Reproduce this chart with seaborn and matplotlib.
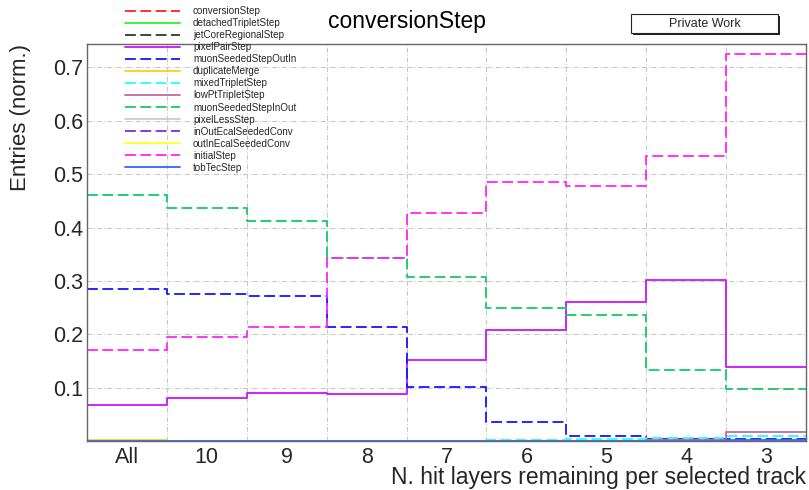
import matplotlib
matplotlib.use("Agg")
import matplotlib.pyplot as plt
from matplotlib.patches import Rectangle
import seaborn as sns
import numpy as np
import pandas as pd

# ---- data ----
categories = ["All", "10", "9", "8", "7", "6", "5", "4", "3"]

conversionStep        = [0, 0, 0, 0, 0, 0, 0, 0, 0]
detachedTripletStep   = [0, 0, 0, 0, 0, 0, 0, 0, 0]
jetCoreRegionalStep   = [0, 0, 0, 0, 0, 0, 0, 0, 0]
pixelPairStep         = [0.068, 0.081, 0.090, 0.089, 0.151, 0.208, 0.261, 0.301, 0.138]
muonSeededStepOutIn   = [0.285, 0.275, 0.272, 0.213, 0.101, 0.036, 0.009, 0.004, 0.003]
duplicateMerge        = [0.002, 0, 0, 0, 0, 0, 0, 0, 0]
mixedTripletStep      = [0, 0, 0, 0, 0, 0.002, 0.004, 0.006, 0.009]
lowPtTripletStep      = [0, 0, 0, 0, 0, 0, 0, 0.002, 0.016]
muonSeededStepInOut   = [0.461, 0.436, 0.413, 0.343, 0.308, 0.249, 0.236, 0.133, 0.097]
pixelLessStep         = [0, 0, 0, 0, 0, 0, 0, 0, 0]
inOutEcalSeededConv   = [0, 0, 0, 0, 0, 0, 0, 0, 0]
outInEcalSeededConv   = [0, 0, 0, 0, 0, 0, 0, 0, 0]
initialStep           = [0.170, 0.194, 0.213, 0.343, 0.428, 0.486, 0.478, 0.535, 0.726]
tobTecStep            = [0, 0, 0, 0, 0, 0, 0, 0, 0.001]

series_names = ["conversionStep", "detachedTripletStep", "jetCoreRegionalStep",
                "pixelPairStep", "muonSeededStepOutIn", "duplicateMerge",
                "mixedTripletStep", "lowPtTripletStep", "muonSeededStepInOut",
                "pixelLessStep", "inOutEcalSeededConv", "outInEcalSeededConv",
                "initialStep", "tobTecStep"]
series_values = [conversionStep, detachedTripletStep, jetCoreRegionalStep,
                 pixelPairStep, muonSeededStepOutIn, duplicateMerge,
                 mixedTripletStep, lowPtTripletStep, muonSeededStepInOut,
                 pixelLessStep, inOutEcalSeededConv, outInEcalSeededConv,
                 initialStep, tobTecStep]
colors = ["#ff2020", "#33ee33", "#333333", "#cc11ff", "#1515ff", "#ffcc22",
          "#22ffff", "#cc6699", "#11cc66", "#cccccc", "#7733cc", "#ffff22",
          "#ff22ff", "#3366ff"]
dashed = [True, False, True, False, True, False, True, False, True, False,
          True, False, True, False]

# ---- style ----
sns.set_theme(style="white")
plt.rcParams["font.family"] = ["Liberation Sans", "DejaVu Sans"]

fig = plt.figure(figsize=(8.09, 4.90), dpi=100)
W, H = 809, 490
ax = fig.add_axes([87 / W, 1 - 441 / H, (806 - 87) / W, (441 - 44) / H])

nb = len(categories)
edges = np.arange(nb + 1)
centers = np.arange(nb) + 0.5

dash_style = (0, (6, 2.5))
handles = []
for name, vals, col, d in zip(series_names, series_values, colors, dashed):
    df = pd.DataFrame({"pos": centers, "w": vals})
    sns.histplot(data=df, x="pos", weights="w", bins=nb, binrange=(0, nb),
                 element="step", fill=False, color=col, linewidth=1.3,
                 linestyle=dash_style if d else "-", ax=ax)
    ln = ax.lines[-1]
    ln.set_label(name)
    handles.append(ln)

ax.set_xlim(0, nb)
ax.set_ylim(0, 0.744)

# grid
grid_kw = dict(color="#c4c4c4", linewidth=0.7, linestyle=(0, (5, 2, 1, 2)))
ax.set_xticks(edges)
ax.set_xticklabels([""] * len(edges))
ax.set_xticks(centers, minor=True)
ax.set_xticklabels(categories, minor=True, fontsize=15.5)
ax.tick_params(axis="x", which="major", direction="in", length=9, width=1,
               color="#666666")
ax.tick_params(axis="x", which="minor", length=0, pad=4)
ax.set_yticks([0.1, 0.2, 0.3, 0.4, 0.5, 0.6, 0.7])
ax.set_yticklabels(["0.1", "0.2", "0.3", "0.4", "0.5", "0.6", "0.7"], fontsize=15.5)
ax.set_yticks(np.arange(0.02, 0.74, 0.02), minor=True)
ax.tick_params(axis="y", which="major", direction="in", length=8, width=1,
               color="#666666", pad=3)
ax.tick_params(axis="y", which="minor", direction="in", length=5, width=1,
               color="#888888")
for e in edges[1:-1]:
    ax.axvline(e, zorder=0, **grid_kw)
for yv in [0.1, 0.2, 0.3, 0.4, 0.5, 0.6, 0.7]:
    ax.axhline(yv, zorder=0, **grid_kw)

for sp in ax.spines.values():
    sp.set_color("#666666")
    sp.set_linewidth(1.0)

ax.set_ylabel("Entries (norm.)", fontsize=16, loc="top")
ax.yaxis.set_label_coords(-0.0775, 1.0)
ax.set_xlabel("N. hit layers remaining per selected track", fontsize=16.5,
              loc="right")
ax.xaxis.set_label_coords(1.0, -0.062)

# legend
leg = fig.legend(handles=handles, labels=series_names, loc="upper left",
                 bbox_to_anchor=(125 / W, 1 - 6 / H), frameon=False,
                 fontsize=7.1, handlelength=5.6, handletextpad=1.3,
                 labelspacing=0.21, borderpad=0, borderaxespad=0)

# title
fig.text(407 / W, 1 - 28 / H, "conversionStep", ha="center", va="baseline",
         fontsize=16.5, color="black")

# Private Work box
fig.patches.append(Rectangle((633 / W, 1 - 35 / H), 147 / W, 19 / H,
                             transform=fig.transFigure, facecolor="#222222",
                             edgecolor="none", zorder=5))
fig.patches.append(Rectangle((631 / W, 1 - 33 / H), 147 / W, 19 / H,
                             transform=fig.transFigure, facecolor="white",
                             edgecolor="#222222", linewidth=0.8, zorder=6))
fig.text(704.5 / W, 1 - 24 / H, "Private Work", ha="center", va="center",
         fontsize=9, zorder=7)

fig.savefig("out.png", dpi=100)
